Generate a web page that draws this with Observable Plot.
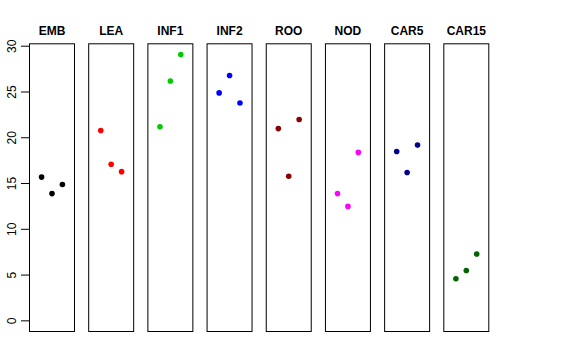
<!DOCTYPE html>
<html>
<head>
<meta charset="utf-8">
<script src="https://cdn.jsdelivr.net/npm/d3@7"></script>
<script src="https://cdn.jsdelivr.net/npm/@observablehq/plot@0.6"></script>
<style>
  html, body { margin: 0; padding: 0; background: #fff; }
  #chart { width: 576px; height: 360px; }
</style>
</head>
<body>
<div id="chart"></div>
<script>
const groups = ["EMB", "LEA", "INF1", "INF2", "ROO", "NOD", "CAR5", "CAR15"];
const colors = ["#000000", "#FF0000", "#00CD00", "#0000FF", "#8B0000", "#FF00FF", "#00008B", "#006400"];
const replicate = [1, 2, 3];
const EMB = [15.7, 13.9, 14.9];
const LEA = [20.8, 17.1, 16.3];
const INF1 = [21.2, 26.2, 29.1];
const INF2 = [24.9, 26.8, 23.8];
const ROO = [21.0, 15.8, 22.0];
const NOD = [13.9, 12.5, 18.4];
const CAR5 = [18.5, 16.2, 19.2];
const CAR15 = [4.6, 5.5, 7.3];
const yTicks = [0, 5, 10, 15, 20, 25, 30];

const series = {EMB, LEA, INF1, INF2, ROO, NOD, CAR5, CAR15};
const data = groups.flatMap(g => series[g].map((v, i) => ({group: g, rep: replicate[i], value: v})));

const yMax = 29.1, yMin = 0;
const pad = (yMax - yMin) * 0.04;

const plot = Plot.plot({
  width: 576,
  height: 360,
  marginLeft: 29,
  marginRight: 87.7,
  marginTop: 43.3,
  marginBottom: 29,
  style: {fontFamily: "'Liberation Sans', Arial, Helvetica, sans-serif", fontSize: "12px", color: "#000", background: "#fff"},
  fx: {domain: groups, paddingInner: 0.24, paddingOuter: 0, round: false},
  x: {domain: [0 - 0.16, 4 + 0.16], axis: null},
  y: {domain: [yMin - pad, yMax + pad]},
  color: {domain: groups, range: colors},
  marks: [
    Plot.frame({stroke: "#000", strokeWidth: 1}),
    Plot.axisFx({anchor: "top", tickSize: 0, tickPadding: 9, label: null, fontWeight: "bold", fontSize: 12}),
    Plot.axisY({ticks: yTicks, tickSize: 8, tickPadding: 6, tickRotate: -90, label: null, fontSize: 12, stroke: "#000"}),
    Plot.dot(data, {fx: "group", x: "rep", y: "value", fill: "group", r: 2.8, stroke: null})
  ]
});
document.getElementById("chart").appendChild(plot);
</script>
</body>
</html>
